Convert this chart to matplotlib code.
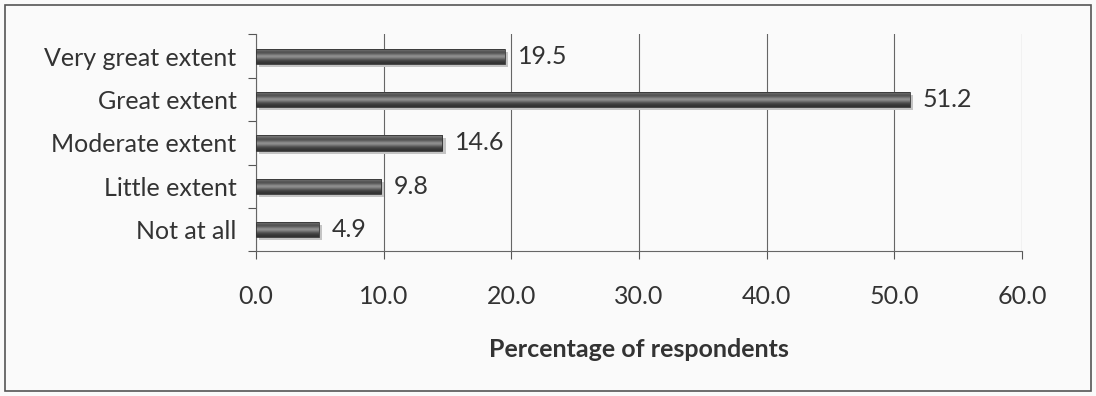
import numpy as np
import matplotlib.pyplot as plt
from matplotlib.patches import Rectangle

categories = ['Very great extent', 'Great extent', 'Moderate extent', 'Little extent', 'Not at all']
percent = [19.5, 51.2, 14.6, 9.8, 4.9]
xticks = [0, 10, 20, 30, 40, 50, 60]

plt.rcParams['font.family'] = ['Lato', 'DejaVu Sans']
fs = 18

fig = plt.figure(figsize=(10.96, 3.96), dpi=100)
fig.patch.set_facecolor('#fafafa')
fig.patches.append(Rectangle((0.005, 0.012), 0.99, 0.975, transform=fig.transFigure,
                             fill=False, edgecolor='#555555', linewidth=1.2))

ax = fig.add_axes([0.2336, 0.365, 0.699, 0.548])
ax.set_facecolor('none')

y = np.arange(len(categories))
bar_h = 0.35

# cylinder-like shading for each bar
grad = np.array([0.5, 0.38, 0.3, 0.42, 0.6, 0.5, 0.33, 0.24, 0.2]).reshape(-1, 1)
for yi, v in zip(y, percent):
    # soft shadow
    ax.add_patch(Rectangle((0.25, yi - bar_h / 2 + 0.07), v, bar_h, facecolor='#c4c4c4',
                           edgecolor='none', zorder=2))
    rect = Rectangle((0, yi - bar_h / 2), v, bar_h, facecolor='none', edgecolor='#333333',
                     linewidth=0.6, zorder=4)
    ax.add_patch(rect)
    im = ax.imshow(grad, cmap='gray', vmin=0, vmax=1, aspect='auto',
                   extent=(0, v, yi + bar_h / 2, yi - bar_h / 2), zorder=3,
                   interpolation='bicubic')
    im.set_clip_path(rect)
    ax.text(v + 1.0, yi, f'{v:.1f}', va='center', ha='left', fontsize=fs, color='#333333')

ax.set_xlim(0, 60)
ax.set_ylim(len(categories) - 0.5, -0.5)
ax.set_xticks(xticks)
ax.set_xticklabels([f'{t:.1f}' for t in xticks], fontsize=fs, color='#333333')
ax.set_yticks(y)
ax.set_yticklabels(categories, fontsize=fs, color='#333333')
ax.tick_params(axis='y', length=0, pad=14)
ax.tick_params(axis='x', length=6, width=0.8, color='#555555', pad=18)

# minor ticks between categories on the value axis
ax.set_yticks(np.arange(-0.5, len(categories), 1), minor=True)
ax.tick_params(axis='y', which='minor', length=6, width=0.8, color='#555555')

ax.grid(axis='x', color='#666666', linewidth=0.8)
ax.set_axisbelow(True)
for s in ['top', 'right']:
    ax.spines[s].set_visible(False)
for s in ['left', 'bottom']:
    ax.spines[s].set_color('#666666')
    ax.spines[s].set_linewidth(0.8)

ax.set_xlabel('Percentage of respondents', fontsize=fs, fontweight='bold', color='#333333',
              labelpad=22)

fig.savefig('out.png', dpi=100, facecolor=fig.get_facecolor())
